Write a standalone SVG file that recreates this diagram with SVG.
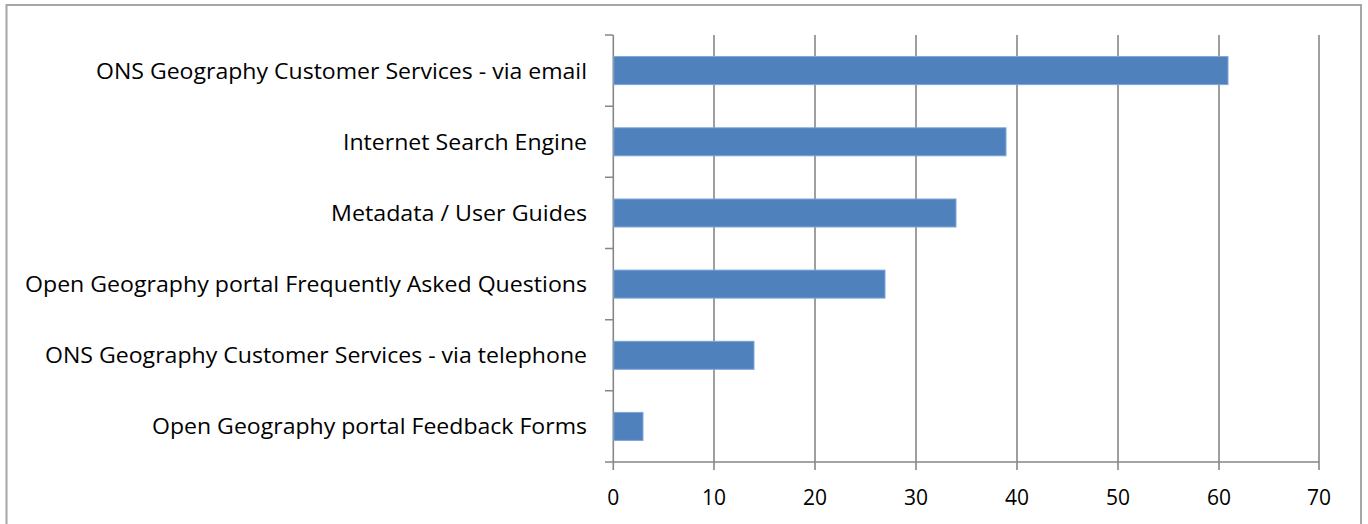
<svg xmlns="http://www.w3.org/2000/svg" width="1368" height="524" viewBox="0 0 1368 524">
<style>
.frame{fill:#fff;stroke:#a6a6a6;stroke-width:2}
.grid{stroke:#878787;stroke-width:1.6;fill:none}
.bar{fill:#4f81bd;stroke:#7ea6d8;stroke-width:1}
.cat{font-family:"Open Sans","Liberation Sans",sans-serif;font-size:21px;fill:#000;text-anchor:end}
.tick{font-family:"Open Sans","Liberation Sans",sans-serif;font-size:21px;fill:#000;text-anchor:middle}
</style>
<rect class="frame" x="6.5" y="5" width="1354.5" height="530"/>
<g id="axes">
<path class="grid" d="M714 35V470M815 35V470M916 35V470M1017 35V470M1118 35V470M1219 35V470M1319 35V470"/>
<path class="grid" d="M613.3 35V470M605 462H1319M605 35H613M605 106.2H613M605 177.3H613M605 248.5H613M605 319.7H613M605 390.8H613"/>
</g>
<g id="bars">
<rect id="bar1" class="bar" x="613.8" y="56.6" width="614.2" height="28"/>
<rect id="bar2" class="bar" x="613.8" y="127.8" width="392.2" height="28"/>
<rect id="bar3" class="bar" x="613.8" y="199" width="342.2" height="28"/>
<rect id="bar4" class="bar" x="613.8" y="270.1" width="271.2" height="28"/>
<rect id="bar5" class="bar" x="613.8" y="341.3" width="140.2" height="28"/>
<rect id="bar6" class="bar" x="613.8" y="412.4" width="29.2" height="28"/>
</g>
<g id="labels">
<text class="cat" x="587" y="78.6" textLength="491" lengthAdjust="spacingAndGlyphs">ONS Geography Customer Services - via email</text>
<text class="cat" x="587" y="149.8" textLength="244" lengthAdjust="spacingAndGlyphs">Internet Search Engine</text>
<text class="cat" x="587" y="221" textLength="256" lengthAdjust="spacingAndGlyphs">Metadata / User Guides</text>
<text class="cat" x="587" y="292.1" textLength="562" lengthAdjust="spacingAndGlyphs">Open Geography portal Frequently Asked Questions</text>
<text class="cat" x="587" y="363.3" textLength="542" lengthAdjust="spacingAndGlyphs">ONS Geography Customer Services - via telephone</text>
<text class="cat" x="587" y="434.4" textLength="435" lengthAdjust="spacingAndGlyphs">Open Geography portal Feedback Forms</text>
</g>
<g id="ticks">
<text class="tick" x="613.3" y="505">0</text>
<text class="tick" x="714" y="505">10</text>
<text class="tick" x="815" y="505">20</text>
<text class="tick" x="916" y="505">30</text>
<text class="tick" x="1017" y="505">40</text>
<text class="tick" x="1118" y="505">50</text>
<text class="tick" x="1219" y="505">60</text>
<text class="tick" x="1319" y="505">70</text>
</g>
</svg>
